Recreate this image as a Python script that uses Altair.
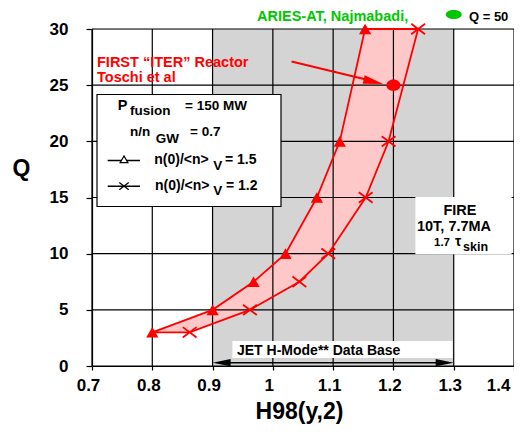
import altair as alt
import pandas as pd

# ---------------- data ----------------
q_levels = [3, 5, 7.5, 10, 15, 20, 30]
h98_v15 = [0.800, 0.900, 0.968, 1.021, 1.073, 1.111, 1.153]   # n(0)/<n>_V = 1.5 (triangles)
h98_v12 = [0.862, 0.962, 1.044, 1.092, 1.154, 1.192, 1.241]   # n(0)/<n>_V = 1.2 (crosses)

x_ticks = [0.7, 0.8, 0.9, 1.0, 1.1, 1.2, 1.3, 1.4]
y_ticks = [0, 5, 10, 15, 20, 25, 30]

jet_range = [0.9, 1.3]          # JET H-mode data base range
iter_point = [1.2, 25.0]        # FIRST "ITER" reactor point
aries_point = [1.30, 31.3]      # ARIES-AT marker (Q = 50)

RED = "#ff0000"
GREEN = "#00c800"
FONT = "Liberation Sans"

XS = alt.Scale(domain=[0.7, 1.4], nice=False, zero=False)
YS = alt.Scale(domain=[0, 30], nice=False, zero=False)

x_axis = alt.Axis(values=x_ticks, format="~g", grid=False, title="H98(y,2)",
                  labelFont=FONT, labelFontSize=17, labelFontWeight="bold", labelColor="black",
                  labelPadding=7, labelFlush=False, labelOverlap=False, labelOffset=-4,
                  labelAlign={"condition": {"test": "datum.value >= 1.35", "value": "right"}, "value": "center"},
                  tickColor="black", tickSize=4, tickWidth=1.2,
                  domainColor="black", domainWidth=1.2,
                  titleFont=FONT, titleFontSize=23, titleFontWeight="bold", titleColor="black",
                  titleX=207, titleY=52, titleAlign="center", titleBaseline="alphabetic")
y_axis = alt.Axis(values=y_ticks, grid=False, title="Q",
                  labelFont=FONT, labelFontSize=17, labelFontWeight="bold", labelColor="black",
                  labelPadding=18, labelFlush=False, labelOverlap=False,
                  tickColor="black", tickSize=6, tickWidth=1.2,
                  domainColor="black", domainWidth=1.2,
                  titleFont=FONT, titleFontSize=23, titleFontWeight="bold", titleColor="black",
                  titleAngle=0, titleX=-71, titleY=139, titleAlign="center", titleBaseline="middle")


def X(f):
    return alt.X(f, type="quantitative", scale=XS, axis=x_axis)


def Y(f):
    return alt.Y(f, type="quantitative", scale=YS, axis=y_axis)


layers = []

# grey JET region
grey = pd.DataFrame({"x": [jet_range[0]], "x2": [jet_range[1]], "y": [0], "y2": [30]})
layers.append(alt.Chart(grey).mark_rect(color="#d4d4d4").encode(
    x=X("x"), x2="x2", y=Y("y"), y2="y2"))

# band between the two profiles
band = pd.DataFrame({"q": q_levels, "a": h98_v15, "b": h98_v12})
layers.append(alt.Chart(band).mark_area(orient="horizontal", color="#ffc8c8", opacity=1).encode(
    y=Y("q"), x=X("a"), x2="b"))

# grid
vgrid = pd.DataFrame({"x": x_ticks, "y": [0] * len(x_ticks), "y2": [30] * len(x_ticks)})
hgrid = pd.DataFrame({"y": y_ticks, "x": [0.7] * len(y_ticks), "x2": [1.4] * len(y_ticks)})
layers.append(alt.Chart(vgrid).mark_rule(color="black", strokeWidth=1.2).encode(
    x=X("x"), y=Y("y"), y2="y2"))
layers.append(alt.Chart(hgrid).mark_rule(color="black", strokeWidth=1.2).encode(
    y=Y("y"), x=X("x"), x2="x2"))

# outline of the band
poly = pd.DataFrame({
    "x": h98_v15 + h98_v12[::-1] + [h98_v15[0]],
    "y": q_levels + q_levels[::-1] + [q_levels[0]],
    "o": list(range(2 * len(q_levels) + 1)),
})
layers.append(alt.Chart(poly).mark_line(color=RED, strokeWidth=1.8).encode(
    x=X("x"), y=Y("y"), order="o:Q"))

# markers
tri = pd.DataFrame({"x": h98_v15, "y": q_levels})
crs = pd.DataFrame({"x": h98_v12, "y": q_levels})
layers.append(alt.Chart(tri).mark_point(shape="triangle-up", filled=True, color=RED, size=150, opacity=1).encode(
    x=X("x"), y=Y("y")))
layers.append(alt.Chart(crs).mark_point(shape="M-1,-0.75L1,0.75M-1,0.75L1,-0.75", filled=False,
                                        color=RED, size=190, strokeWidth=1.8, opacity=1).encode(
    x=X("x"), y=Y("y")))

# red arrow to the ITER point and the point itself
arrow = pd.DataFrame({"x": [1.031], "y": [27.1], "x2": [1.170], "y2": [25.3]})
layers.append(alt.Chart(arrow).mark_rule(color=RED, strokeWidth=2).encode(
    x=X("x"), y=Y("y"), x2="x2", y2="y2"))
head = pd.DataFrame({"x": [1.183], "y": [25.1]})
layers.append(alt.Chart(head).mark_point(shape="M0,0L-1,-0.22L-1,0.22Z", filled=True, color=RED,
                                         size=1600, angle=13, opacity=1).encode(x=X("x"), y=Y("y")))
dot = pd.DataFrame({"x": [iter_point[0]], "y": [iter_point[1]]})
layers.append(alt.Chart(dot).mark_point(shape="M-1,0A1,0.8,0,1,1,1,0A1,0.8,0,1,1,-1,0Z", filled=True,
                                        color=RED, size=200, opacity=1).encode(x=X("x"), y=Y("y")))

# white boxes
boxes = pd.DataFrame({
    "x": [0.7083, 1.2374, 0.9339],
    "x2": [1.0135, 1.395, 1.2971],
    "y": [24.17, 15.0, 2.17],
    "y2": [14.2, 10.0, 0.76],
    "s": ["black", "white", "white"],
})
layers.append(alt.Chart(boxes).mark_rect(fill="white", strokeWidth=1.2).encode(
    x=X("x"), x2="x2", y=Y("y"), y2="y2", stroke=alt.Stroke("s:N", scale=None)))

# legend symbols
leg = pd.DataFrame({"x": [0.726, 0.726], "x2": [0.7796, 0.7796], "y": [18.29, 16.01]})
layers.append(alt.Chart(leg).mark_rule(color="black", strokeWidth=1.5).encode(
    x=X("x"), x2="x2", y=Y("y")))
layers.append(alt.Chart(pd.DataFrame({"x": [0.7531], "y": [18.4]})).mark_point(
    shape="triangle-up", filled=True, fill="white", stroke="black", strokeWidth=1.2, size=60, opacity=1).encode(
    x=X("x"), y=Y("y")))
layers.append(alt.Chart(pd.DataFrame({"x": [0.7531], "y": [16.01]})).mark_point(
    shape="M-1,-0.75L1,0.75M-1,0.75L1,-0.75", filled=False, color="black", strokeWidth=1.3,
    size=90, opacity=1).encode(x=X("x"), y=Y("y")))

# JET double arrow
jet = pd.DataFrame({"x": [jet_range[0] + 0.02], "x2": [jet_range[1] - 0.02], "y": [0.3]})
layers.append(alt.Chart(jet).mark_rule(color="black", strokeWidth=1.5).encode(
    x=X("x"), x2="x2", y=Y("y")))
jh = pd.DataFrame({"x": jet_range, "y": [0.3, 0.3], "a": [180, 0]})
layers.append(alt.Chart(jh).mark_point(shape="M0,0L-1,-0.2L-1,0.2Z", filled=True, color="black",
                                       size=1300, opacity=1).encode(
    x=X("x"), y=Y("y"), angle=alt.Angle("a:Q", scale=None)))

# ARIES marker
layers.append(alt.Chart(pd.DataFrame({"x": [aries_point[0]], "y": [aries_point[1]]})).mark_point(
    shape="M-1,0A1,0.56,0,1,1,1,0A1,0.56,0,1,1,-1,0Z", filled=True, color=GREEN, size=256, opacity=1).encode(
    x=X("x"), y=Y("y")))

# texts
left_texts = pd.DataFrame([
    ("FIRST \u201cITER\u201d Reactor", 0.7083, 26.65, RED, 14.5),
    ("Toschi et al", 0.7083, 25.25, RED, 14.5),
    ("ARIES-AT, Najmabadi,", 0.9737, 30.7, GREEN, 14.5),
    ("Q = 50", 1.3253, 30.72, "black", 13),
    ("P", 0.7426, 22.83, "black", 14.5),
    ("fusion", 0.763, 22.30, "black", 13.5),
    ("= 150 MW", 0.8543, 22.83, "black", 13.5),
    ("n/n", 0.763, 20.46, "black", 13.5),
    ("GW", 0.8057, 19.87, "black", 13.5),
    ("= 0.7", 0.8626, 20.46, "black", 13.5),
    ("n(0)/<n>", 0.8033, 17.94, "black", 14),
    ("V", 0.9012, 17.49, "black", 13.5),
    ("= 1.5", 0.9206, 17.94, "black", 14),
    ("n(0)/<n>", 0.8045, 15.71, "black", 14),
    ("V", 0.9012, 15.24, "black", 13.5),
    ("= 1.2", 0.9223, 15.71, "black", 14),
    ("10T, 7.7MA", 1.239, 12.0, "black", 14.5),
    ("1.7", 1.2673, 10.67, "black", 11.5),
    ("\u03c4", 1.3021, 10.67, "black", 14),
    ("skin", 1.3154, 10.28, "black", 12.5),
    ("JET H-Mode** Data Base", 0.9405, 0.96, "black", 14),
], columns=["t", "x", "y", "c", "s"])
center_texts = pd.DataFrame([
    ("FIRE", 1.3104, 13.47, "black", 14.5),
], columns=["t", "x", "y", "c", "s"])

for df, al in [(left_texts, "left"), (center_texts, "center")]:
    layers.append(alt.Chart(df).mark_text(align=al, baseline="alphabetic", font=FONT,
                                          fontWeight="bold").encode(
        x=X("x"), y=Y("y"), text="t:N",
        color=alt.Color("c:N", scale=None), size=alt.Size("s:Q", scale=None)))

chart = alt.layer(*layers).properties(
    width=422, height=337,
    autosize=alt.AutoSizeParams(type="none"),
    padding={"left": 84, "top": 21, "right": 0, "bottom": 59},
).configure_view(stroke=None).configure(background="white")

chart.save("out.html", embed_options={"renderer": "svg", "actions": False})
